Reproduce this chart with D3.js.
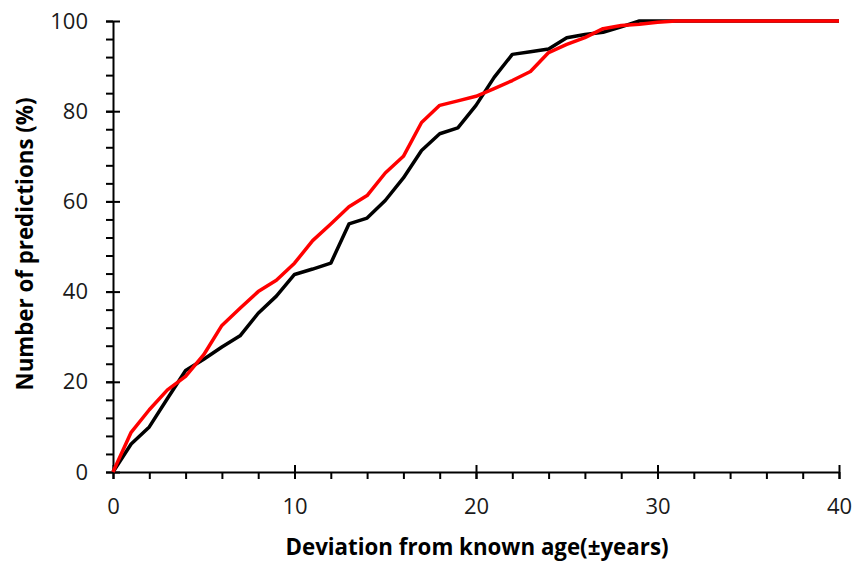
<!DOCTYPE html>
<html>
<head>
<meta charset="utf-8">
<script src="https://cdn.jsdelivr.net/npm/d3@7"></script>
<style>
  body { margin: 0; background: #fff; }
  svg { display: block; font-family: "Open Sans", sans-serif; }
</style>
</head>
<body>
<svg width="853" height="561"></svg>
<script>
var deviation = d3.range(0, 41);

var blackValues = [0, 6.2, 10, 16.3, 22.5, 25, 27.7, 30.2, 35.2, 39, 43.8, 45, 46.3, 55, 56.3, 60.2, 65.2, 71.3, 75, 76.3, 81.3, 87.5, 92.6, 93.2, 93.8, 96.3, 97, 97.5, 98.7, 100, 100,
                   100, 100, 100, 100, 100, 100, 100, 100, 100, 100];
var redValues = [0, 8.8, 13.8, 18.2, 21.2, 26, 32.5, 36.3, 40, 42.5, 46.3, 51.3, 55, 58.8, 61.3, 66.3, 70, 77.5, 81.3, 82.3, 83.3, 85, 86.8, 88.8, 93, 94.8, 96.3, 98.3, 99, 99.3, 99.7,
                 100, 100, 100, 100, 100, 100, 100, 100, 100, 100];

var xMajor = [0, 10, 20, 30, 40];
var yMajor = [0, 20, 40, 60, 80, 100];

var svg = d3.select('svg'),
    plotLeft = 113,
    plotRight = 839,
    plotTop = 21,
    plotBottom = 472;

var x = d3.scaleLinear().domain([0, 40]).range([plotLeft, plotRight]),
    y = d3.scaleLinear().domain([0, 100]).range([plotBottom, plotTop]);

// minor ticks
svg.append('g')
    .attr('transform', 'translate(0,' + plotBottom + ')')
    .call(d3.axisBottom(x).tickValues(d3.range(0, 41, 2)).tickSize(7).tickFormat(''))
    .call(function(g) { g.select('.domain').remove(); });

svg.append('g')
    .attr('transform', 'translate(' + plotLeft + ',0)')
    .call(d3.axisLeft(y).tickValues(d3.range(0, 101, 4)).tickSize(7).tickFormat(''))
    .call(function(g) { g.select('.domain').remove(); });

// major axes
var xAxis = svg.append('g')
    .attr('transform', 'translate(0,' + plotBottom + ')')
    .call(d3.axisBottom(x).tickValues(xMajor).tickSizeInner(7).tickSizeOuter(0).tickPadding(19));
xAxis.selectAll('.tick line').attr('y1', -7);

var yAxis = svg.append('g')
    .attr('transform', 'translate(' + plotLeft + ',0)')
    .call(d3.axisLeft(y).tickValues(yMajor).tickSizeInner(7).tickSizeOuter(0).tickPadding(18));
yAxis.selectAll('.tick line').attr('x1', 7);

svg.selectAll('.tick line, .domain').attr('stroke', '#000').attr('stroke-width', 2);
svg.selectAll('.tick text')
    .attr('font-family', '"Open Sans", sans-serif')
    .attr('font-size', 22)
    .attr('fill', '#1a1a1a');

var line = d3.line()
    .x(function(d, i) { return x(deviation[i]); })
    .y(function(d) { return y(d); });

svg.append('path')
    .datum(blackValues)
    .attr('d', line)
    .attr('fill', 'none')
    .attr('stroke', '#000')
    .attr('stroke-width', 3.5)
    .attr('stroke-linejoin', 'round');

svg.append('path')
    .datum(redValues)
    .attr('d', line)
    .attr('fill', 'none')
    .attr('stroke', '#ff0000')
    .attr('stroke-width', 3.5)
    .attr('stroke-linejoin', 'round');

svg.append('text')
    .attr('x', 477)
    .attr('y', 555)
    .attr('text-anchor', 'middle')
    .attr('font-size', 22.3)
    .attr('font-weight', 'bold')
    .text('Deviation from known age(±years)');

svg.append('text')
    .attr('transform', 'translate(33,244) rotate(-90)')
    .attr('text-anchor', 'middle')
    .attr('font-size', 22.3)
    .attr('font-weight', 'bold')
    .text('Number of predictions (%)');
</script>
</body>
</html>
